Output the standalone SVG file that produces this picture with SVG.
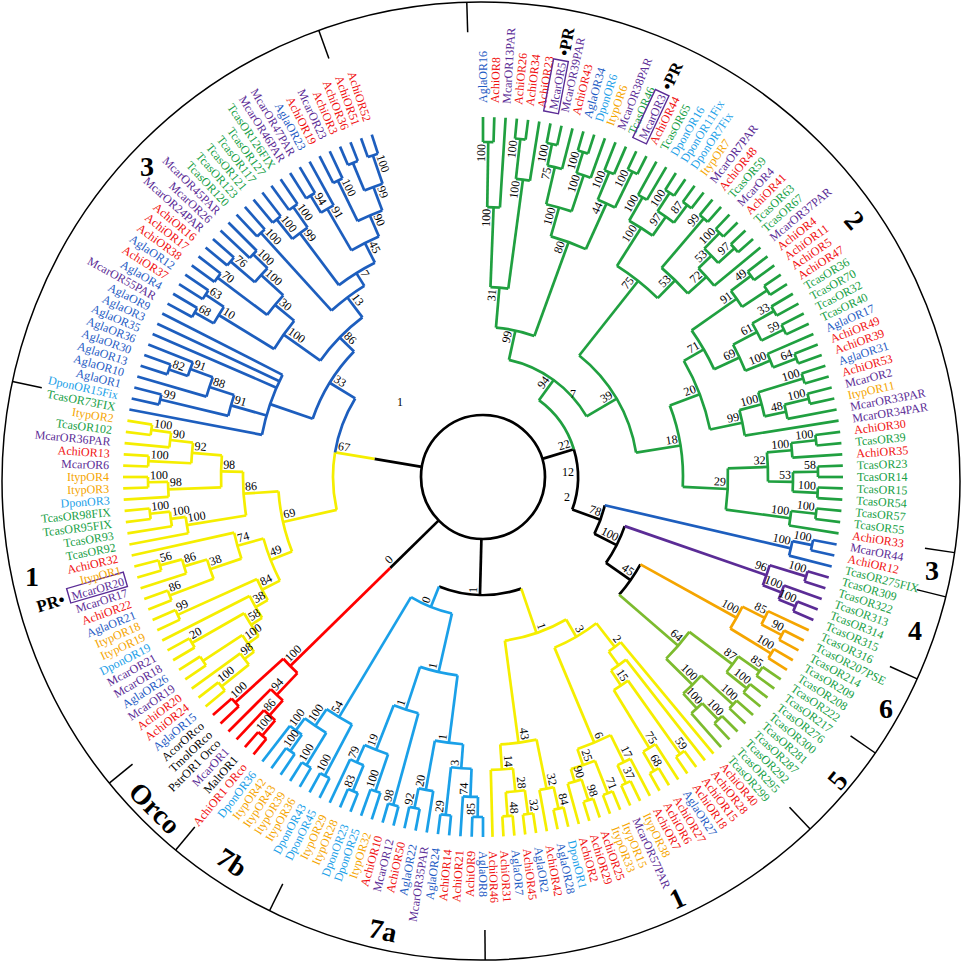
<svg xmlns="http://www.w3.org/2000/svg" width="964" height="964" viewBox="0 0 964 964">
<style>
text{font-family:"Liberation Serif","Times New Roman",serif;font-size:12px}
.e{text-anchor:end}
.a{fill:#f01010}.m{fill:#5b2c96}.g{fill:#1f5cc4}.d{fill:#1aa0e8}.i{fill:#f5a500}.t{fill:#17a046}.k{fill:#000}
.n{fill:#000;font-size:12px}
.cl{font-weight:bold;font-size:28px;text-anchor:middle;fill:#000}
.pr{font-weight:bold;font-size:17px;fill:#000}
line,circle,rect{fill:none}
.G{stroke:#20a040;stroke-width:2.7}.B{stroke:#1d5ebe;stroke-width:2.7}.Y{stroke:#f5ee00;stroke-width:2.7}.R{stroke:#f00;stroke-width:2.7}
.L{stroke:#1aa0e8;stroke-width:2.7}.P{stroke:#5b2c96;stroke-width:2.7}.O{stroke:#f5a500;stroke-width:2.7}.V{stroke:#7cbb2e;stroke-width:2.7}.K{stroke:#000;stroke-width:2.7}
.box{stroke:#5b2c96;stroke-width:1.4}
</style>
<rect width="964" height="964" fill="#fff"/>
<g id="frame" transform="translate(481 481)">
<circle r="479" stroke="#000" stroke-width="1.5"/>
<g stroke="#000" stroke-width="1.5">
<line x1="449" x2="479" transform="rotate(-91.7)"/>
<line x1="449" x2="479" transform="rotate(-109.8)"/>
<line x1="449" x2="479" transform="rotate(192)"/>
<line x1="449" x2="479" transform="rotate(140.9)"/>
<line x1="449" x2="479" transform="rotate(129.6)"/>
<line x1="449" x2="479" transform="rotate(116.2)"/>
<line x1="449" x2="479" transform="rotate(89.5)"/>
<line x1="449" x2="479" transform="rotate(46.6)"/>
<line x1="449" x2="479" transform="rotate(34.6)"/>
<line x1="449" x2="479" transform="rotate(24.4)"/>
<line x1="449" x2="479" transform="rotate(14)"/>
<line x1="449" x2="479" transform="rotate(8.6)"/>
</g>
</g>
<g id="cladelabels">
<text class="cl" x="855" y="230" transform="rotate(50 855 220)">2</text>
<text class="cl" x="147" y="176">3</text>
<text class="cl" x="32" y="586">1</text>
<text class="cl" x="156" y="818" font-size="33" transform="rotate(45 156 807)">Orco</text>
<text class="cl" x="232" y="872" transform="rotate(33 232 862)">7b</text>
<text class="cl" x="383" y="940" transform="rotate(12 383 930)">7a</text>
<text class="cl" x="677" y="908" transform="rotate(-25 677 898)">1</text>
<text class="cl" x="837" y="790" transform="rotate(-50 837 780)">5</text>
<text class="cl" x="886" y="718">6</text>
<text class="cl" x="915" y="640">4</text>
<text class="cl" x="932" y="580">3</text>
</g>
<g id="connectors" transform="translate(483 477)">
<circle class="K" r="62"/>
<g class="K">
<line x1="62" x2="95" transform="rotate(-16.965)"/>
<circle r="95" pathLength="360" stroke-dasharray="37.005 999" transform="rotate(-16.965)"/>
<line x1="95" x2="125" transform="rotate(20.04)"/>
<circle r="125" pathLength="360" stroke-dasharray="13.98 999" transform="rotate(13.05)"/>
<line x1="125" x2="150" transform="rotate(27.03)"/>
<circle r="150" pathLength="360" stroke-dasharray="15.81 999" transform="rotate(19.125)"/>
<line x1="150" x2="180" transform="rotate(34.93)"/>
<circle r="180" pathLength="360" stroke-dasharray="11.8125 999" transform="rotate(29.025)"/>
<line x1="62" x2="118" transform="rotate(91.4745)"/>
<circle r="118" pathLength="360" stroke-dasharray="40.8161 999" transform="rotate(71.0664)"/>
<line x1="62" x2="130" transform="rotate(135.5625)"/>
<line x1="62" x2="110" transform="rotate(189.453)"/>
</g>
<g class="G">
<circle r="95" pathLength="360" stroke-dasharray="36.965 999" transform="rotate(-53.93)"/>
<circle r="335" pathLength="360" stroke-dasharray="1.8 999" transform="rotate(-90)"/>
<circle r="270" pathLength="360" stroke-dasharray="2.7 999" transform="rotate(-89.1)"/>
<circle r="340" pathLength="360" stroke-dasharray="1.8 999" transform="rotate(-84.6)"/>
<circle r="300" pathLength="360" stroke-dasharray="2.7 999" transform="rotate(-83.7)"/>
<circle r="190" pathLength="360" stroke-dasharray="5.4 999" transform="rotate(-87.75)"/>
<circle r="340" pathLength="360" stroke-dasharray="1.8 999" transform="rotate(-79.2)"/>
<circle r="318" pathLength="360" stroke-dasharray="2.7 999" transform="rotate(-78.3)"/>
<circle r="340" pathLength="360" stroke-dasharray="1.8 999" transform="rotate(-73.8)"/>
<circle r="318" pathLength="360" stroke-dasharray="2.7 999" transform="rotate(-72.9)"/>
<circle r="280" pathLength="360" stroke-dasharray="5.4 999" transform="rotate(-76.95)"/>
<circle r="330" pathLength="360" stroke-dasharray="1.8 999" transform="rotate(-68.4)"/>
<circle r="340" pathLength="360" stroke-dasharray="1.8 999" transform="rotate(-64.8)"/>
<circle r="300" pathLength="360" stroke-dasharray="3.6 999" transform="rotate(-67.5)"/>
<circle r="250" pathLength="360" stroke-dasharray="8.55 999" transform="rotate(-74.25)"/>
<circle r="150" pathLength="360" stroke-dasharray="15.075 999" transform="rotate(-85.05)"/>
<circle r="322" pathLength="360" stroke-dasharray="1.8 999" transform="rotate(-61.2)"/>
<circle r="340" pathLength="360" stroke-dasharray="1.8 999" transform="rotate(-57.6)"/>
<circle r="340" pathLength="360" stroke-dasharray="1.8 999" transform="rotate(-54)"/>
<circle r="318" pathLength="360" stroke-dasharray="3.6 999" transform="rotate(-56.7)"/>
<circle r="295" pathLength="360" stroke-dasharray="5.4 999" transform="rotate(-60.3)"/>
<circle r="340" pathLength="360" stroke-dasharray="1.8 999" transform="rotate(-50.4)"/>
<circle r="340" pathLength="360" stroke-dasharray="1.8 999" transform="rotate(-46.8)"/>
<circle r="340" pathLength="360" stroke-dasharray="1.8 999" transform="rotate(-43.2)"/>
<circle r="318" pathLength="360" stroke-dasharray="3.6 999" transform="rotate(-45.9)"/>
<circle r="300" pathLength="360" stroke-dasharray="4.5 999" transform="rotate(-44.1)"/>
<circle r="275" pathLength="360" stroke-dasharray="7.65 999" transform="rotate(-49.5)"/>
<circle r="250" pathLength="360" stroke-dasharray="11.925 999" transform="rotate(-57.6)"/>
<circle r="335" pathLength="360" stroke-dasharray="1.8 999" transform="rotate(-37.8)"/>
<circle r="340" pathLength="360" stroke-dasharray="1.8 999" transform="rotate(-34.2)"/>
<circle r="310" pathLength="360" stroke-dasharray="3.6 999" transform="rotate(-36.9)"/>
<circle r="335" pathLength="360" stroke-dasharray="1.8 999" transform="rotate(-30.6)"/>
<circle r="335" pathLength="360" stroke-dasharray="1.8 999" transform="rotate(-27)"/>
<circle r="310" pathLength="360" stroke-dasharray="3.6 999" transform="rotate(-29.7)"/>
<circle r="335" pathLength="360" stroke-dasharray="1.8 999" transform="rotate(-21.6)"/>
<circle r="310" pathLength="360" stroke-dasharray="2.7 999" transform="rotate(-23.4)"/>
<circle r="283" pathLength="360" stroke-dasharray="5.85 999" transform="rotate(-27.9)"/>
<circle r="255" pathLength="360" stroke-dasharray="10.125 999" transform="rotate(-35.1)"/>
<circle r="335" pathLength="360" stroke-dasharray="1.8 999" transform="rotate(-18)"/>
<circle r="335" pathLength="360" stroke-dasharray="1.8 999" transform="rotate(-14.4)"/>
<circle r="310" pathLength="360" stroke-dasharray="2.7 999" transform="rotate(-13.5)"/>
<circle r="288" pathLength="360" stroke-dasharray="4.95 999" transform="rotate(-17.1)"/>
<circle r="265" pathLength="360" stroke-dasharray="5.625 999" transform="rotate(-14.625)"/>
<circle r="232" pathLength="360" stroke-dasharray="18.225 999" transform="rotate(-30.0375)"/>
<circle r="335" pathLength="360" stroke-dasharray="1.8 999" transform="rotate(-7.2)"/>
<circle r="310" pathLength="360" stroke-dasharray="2.7 999" transform="rotate(-6.3)"/>
<circle r="335" pathLength="360" stroke-dasharray="1.8 999" transform="rotate(-1.8)"/>
<circle r="335" pathLength="360" stroke-dasharray="1.8 999" transform="rotate(1.8)"/>
<circle r="310" pathLength="360" stroke-dasharray="3.6 999" transform="rotate(-0.9)"/>
<circle r="285" pathLength="360" stroke-dasharray="5.85 999" transform="rotate(-4.95)"/>
<circle r="335" pathLength="360" stroke-dasharray="1.8 999" transform="rotate(5.4)"/>
<circle r="310" pathLength="360" stroke-dasharray="2.7 999" transform="rotate(6.3)"/>
<circle r="245" pathLength="360" stroke-dasharray="9.675 999" transform="rotate(-2.025)"/>
<circle r="200" pathLength="360" stroke-dasharray="23.7375 999" transform="rotate(-20.925)"/>
<circle r="155" pathLength="360" stroke-dasharray="42.58 999" transform="rotate(-51.6375)"/>
<circle r="120" pathLength="360" stroke-dasharray="47.165 999" transform="rotate(-77.5125)"/>
<line x1="270" x2="335" transform="rotate(-89.1)"/><line x1="270" x2="360" transform="rotate(-86.4)"/><line x1="190" x2="270" transform="rotate(-87.75)"/>
<line x1="300" x2="340" transform="rotate(-83.7)"/><line x1="300" x2="360" transform="rotate(-81)"/><line x1="190" x2="300" transform="rotate(-82.35)"/><line x1="150" x2="190" transform="rotate(-85.05)"/>
<line x1="318" x2="340" transform="rotate(-78.3)"/><line x1="318" x2="360" transform="rotate(-75.6)"/><line x1="280" x2="318" transform="rotate(-76.95)"/>
<line x1="318" x2="340" transform="rotate(-72.9)"/><line x1="318" x2="360" transform="rotate(-70.2)"/><line x1="280" x2="318" transform="rotate(-71.55)"/><line x1="250" x2="280" transform="rotate(-74.25)"/>
<line x1="300" x2="330" transform="rotate(-67.5)"/><line x1="300" x2="340" transform="rotate(-63.9)"/><line x1="250" x2="300" transform="rotate(-65.7)"/><line x1="150" x2="250" transform="rotate(-69.975)"/><line x1="120" x2="150" transform="rotate(-77.5125)"/>
<line x1="295" x2="322" transform="rotate(-60.3)"/><line x1="318" x2="340" transform="rotate(-56.7)"/><line x1="318" x2="340" transform="rotate(-53.1)"/><line x1="295" x2="318" transform="rotate(-54.9)"/><line x1="250" x2="295" transform="rotate(-57.6)"/>
<line x1="275" x2="340" transform="rotate(-49.5)"/><line x1="318" x2="340" transform="rotate(-45.9)"/><line x1="318" x2="340" transform="rotate(-42.3)"/><line x1="300" x2="318" transform="rotate(-44.1)"/><line x1="300" x2="360" transform="rotate(-39.6)"/><line x1="275" x2="300" transform="rotate(-41.85)"/><line x1="250" x2="275" transform="rotate(-45.675)"/><line x1="155" x2="250" transform="rotate(-51.6375)"/>
<line x1="310" x2="335" transform="rotate(-36.9)"/><line x1="310" x2="340" transform="rotate(-33.3)"/><line x1="255" x2="310" transform="rotate(-35.1)"/>
<line x1="310" x2="335" transform="rotate(-29.7)"/><line x1="310" x2="335" transform="rotate(-26.1)"/><line x1="283" x2="310" transform="rotate(-27.9)"/>
<line x1="310" x2="360" transform="rotate(-23.4)"/><line x1="310" x2="335" transform="rotate(-20.7)"/><line x1="283" x2="310" transform="rotate(-22.05)"/><line x1="255" x2="283" transform="rotate(-24.975)"/><line x1="232" x2="255" transform="rotate(-30.0375)"/>
<line x1="288" x2="335" transform="rotate(-17.1)"/><line x1="310" x2="335" transform="rotate(-13.5)"/><line x1="310" x2="360" transform="rotate(-10.8)"/><line x1="288" x2="310" transform="rotate(-12.15)"/><line x1="265" x2="288" transform="rotate(-14.625)"/><line x1="265" x2="360" transform="rotate(-9)"/><line x1="232" x2="265" transform="rotate(-11.8125)"/><line x1="200" x2="232" transform="rotate(-20.925)"/>
<line x1="310" x2="335" transform="rotate(-6.3)"/><line x1="310" x2="360" transform="rotate(-3.6)"/><line x1="285" x2="310" transform="rotate(-4.95)"/>
<line x1="310" x2="335" transform="rotate(-0.9)"/><line x1="310" x2="335" transform="rotate(2.7)"/><line x1="285" x2="310" transform="rotate(0.9)"/><line x1="245" x2="285" transform="rotate(-2.025)"/>
<line x1="310" x2="335" transform="rotate(6.3)"/><line x1="310" x2="360" transform="rotate(9)"/><line x1="245" x2="310" transform="rotate(7.65)"/><line x1="200" x2="245" transform="rotate(2.8125)"/><line x1="155" x2="200" transform="rotate(-9.056)"/><line x1="120" x2="155" transform="rotate(-30.347)"/><line x1="95" x2="120" transform="rotate(-53.93)"/>
<line x1="335" x2="360" transform="rotate(-90)"/><line x1="335" x2="360" transform="rotate(-88.2)"/>
<line x1="340" x2="360" transform="rotate(-84.6)"/><line x1="340" x2="360" transform="rotate(-82.8)"/>
<line x1="340" x2="360" transform="rotate(-79.2)"/><line x1="340" x2="360" transform="rotate(-77.4)"/>
<line x1="340" x2="360" transform="rotate(-73.8)"/><line x1="340" x2="360" transform="rotate(-72)"/>
<line x1="330" x2="360" transform="rotate(-68.4)"/><line x1="330" x2="360" transform="rotate(-66.6)"/>
<line x1="340" x2="360" transform="rotate(-64.8)"/><line x1="340" x2="360" transform="rotate(-63)"/>
<line x1="322" x2="360" transform="rotate(-61.2)"/><line x1="322" x2="360" transform="rotate(-59.4)"/>
<line x1="340" x2="360" transform="rotate(-57.6)"/><line x1="340" x2="360" transform="rotate(-55.8)"/>
<line x1="340" x2="360" transform="rotate(-54)"/><line x1="340" x2="360" transform="rotate(-52.2)"/>
<line x1="340" x2="360" transform="rotate(-50.4)"/><line x1="340" x2="360" transform="rotate(-48.6)"/>
<line x1="340" x2="360" transform="rotate(-46.8)"/><line x1="340" x2="360" transform="rotate(-45)"/>
<line x1="340" x2="360" transform="rotate(-43.2)"/><line x1="340" x2="360" transform="rotate(-41.4)"/>
<line x1="335" x2="360" transform="rotate(-37.8)"/><line x1="335" x2="360" transform="rotate(-36)"/>
<line x1="340" x2="360" transform="rotate(-34.2)"/><line x1="340" x2="360" transform="rotate(-32.4)"/>
<line x1="335" x2="360" transform="rotate(-30.6)"/><line x1="335" x2="360" transform="rotate(-28.8)"/>
<line x1="335" x2="360" transform="rotate(-27)"/><line x1="335" x2="360" transform="rotate(-25.2)"/>
<line x1="335" x2="360" transform="rotate(-21.6)"/><line x1="335" x2="360" transform="rotate(-19.8)"/>
<line x1="335" x2="360" transform="rotate(-18)"/><line x1="335" x2="360" transform="rotate(-16.2)"/>
<line x1="335" x2="360" transform="rotate(-14.4)"/><line x1="335" x2="360" transform="rotate(-12.6)"/>
<line x1="335" x2="360" transform="rotate(-7.2)"/><line x1="335" x2="360" transform="rotate(-5.4)"/>
<line x1="335" x2="360" transform="rotate(-1.8)"/><line x1="335" x2="360" transform="rotate(0)"/>
<line x1="335" x2="360" transform="rotate(1.8)"/><line x1="335" x2="360" transform="rotate(3.6)"/>
<line x1="335" x2="360" transform="rotate(5.4)"/><line x1="335" x2="360" transform="rotate(7.2)"/>
</g>
<g class="B">
<circle r="336" pathLength="360" stroke-dasharray="1.8 999" transform="rotate(10.8)"/>
<circle r="316" pathLength="360" stroke-dasharray="2.7 999" transform="rotate(11.7)"/>
<line x1="336" x2="360" transform="rotate(10.8)"/><line x1="336" x2="360" transform="rotate(12.6)"/><line x1="316" x2="360" transform="rotate(14.4)"/>
<line x1="316" x2="336" transform="rotate(11.7)"/><line x1="125" x2="316" transform="rotate(13.05)"/>
</g>
<g class="P">
<circle r="338" pathLength="360" stroke-dasharray="1.8 999" transform="rotate(16.2)"/>
<circle r="338" pathLength="360" stroke-dasharray="1.8 999" transform="rotate(21.6)"/>
<circle r="320" pathLength="360" stroke-dasharray="2.7 999" transform="rotate(19.8)"/>
<circle r="300" pathLength="360" stroke-dasharray="4.05 999" transform="rotate(17.1)"/>
<line x1="338" x2="360" transform="rotate(16.2)"/><line x1="338" x2="360" transform="rotate(18)"/><line x1="320" x2="360" transform="rotate(19.8)"/><line x1="338" x2="360" transform="rotate(21.6)"/><line x1="338" x2="360" transform="rotate(23.4)"/>
<line x1="320" x2="338" transform="rotate(22.5)"/><line x1="300" x2="338" transform="rotate(17.1)"/><line x1="300" x2="320" transform="rotate(21.15)"/><line x1="150" x2="300" transform="rotate(19.125)"/>
</g>
<g class="O">
<circle r="338" pathLength="360" stroke-dasharray="1.8 999" transform="rotate(27)"/>
<circle r="315" pathLength="360" stroke-dasharray="2.7 999" transform="rotate(25.2)"/>
<circle r="338" pathLength="360" stroke-dasharray="1.8 999" transform="rotate(30.6)"/>
<circle r="290" pathLength="360" stroke-dasharray="4.95 999" transform="rotate(26.55)"/>
<line x1="315" x2="360" transform="rotate(25.2)"/><line x1="338" x2="360" transform="rotate(27)"/><line x1="338" x2="360" transform="rotate(28.8)"/><line x1="338" x2="360" transform="rotate(30.6)"/><line x1="338" x2="360" transform="rotate(32.4)"/>
<line x1="315" x2="338" transform="rotate(27.9)"/><line x1="290" x2="315" transform="rotate(26.55)"/><line x1="290" x2="338" transform="rotate(31.5)"/><line x1="180" x2="290" transform="rotate(29.025)"/>
</g>
<g class="V">
<circle r="338" pathLength="360" stroke-dasharray="1.8 999" transform="rotate(34.2)"/>
<circle r="338" pathLength="360" stroke-dasharray="1.8 999" transform="rotate(37.8)"/>
<circle r="312" pathLength="360" stroke-dasharray="3.6 999" transform="rotate(35.1)"/>
<circle r="338" pathLength="360" stroke-dasharray="1.8 999" transform="rotate(41.4)"/>
<circle r="338" pathLength="360" stroke-dasharray="1.8 999" transform="rotate(45)"/>
<circle r="315" pathLength="360" stroke-dasharray="2.7 999" transform="rotate(45.9)"/>
<circle r="295" pathLength="360" stroke-dasharray="4.95 999" transform="rotate(42.3)"/>
<circle r="258" pathLength="360" stroke-dasharray="7.875 999" transform="rotate(36.9)"/>
<line x1="338" x2="360" transform="rotate(34.2)"/><line x1="338" x2="360" transform="rotate(36)"/><line x1="338" x2="360" transform="rotate(37.8)"/><line x1="338" x2="360" transform="rotate(39.6)"/><line x1="338" x2="360" transform="rotate(41.4)"/><line x1="338" x2="360" transform="rotate(43.2)"/><line x1="338" x2="360" transform="rotate(45)"/><line x1="338" x2="360" transform="rotate(46.8)"/><line x1="315" x2="360" transform="rotate(48.6)"/>
<line x1="312" x2="338" transform="rotate(35.1)"/><line x1="312" x2="338" transform="rotate(38.7)"/><line x1="258" x2="312" transform="rotate(36.9)"/><line x1="295" x2="338" transform="rotate(42.3)"/><line x1="315" x2="338" transform="rotate(45.9)"/><line x1="295" x2="315" transform="rotate(47.25)"/><line x1="258" x2="295" transform="rotate(44.775)"/><line x1="180" x2="258" transform="rotate(40.8375)"/>
</g>
<g class="Y">
<circle r="340" pathLength="360" stroke-dasharray="1.74 999" transform="rotate(53.68)"/>
<circle r="340" pathLength="360" stroke-dasharray="1.74 999" transform="rotate(58.9)"/>
<circle r="318" pathLength="360" stroke-dasharray="2.61 999" transform="rotate(57.16)"/>
<circle r="250" pathLength="360" stroke-dasharray="3.915 999" transform="rotate(54.55)"/>
<circle r="232" pathLength="360" stroke-dasharray="4.5675 999" transform="rotate(51.94)"/>
<circle r="215" pathLength="360" stroke-dasharray="4.02375 999" transform="rotate(50.2)"/>
<circle r="338" pathLength="360" stroke-dasharray="1.74 999" transform="rotate(64.12)"/>
<circle r="318" pathLength="360" stroke-dasharray="2.61 999" transform="rotate(62.38)"/>
<circle r="340" pathLength="360" stroke-dasharray="1.74 999" transform="rotate(67.6)"/>
<circle r="340" pathLength="360" stroke-dasharray="1.74 999" transform="rotate(71.08)"/>
<circle r="318" pathLength="360" stroke-dasharray="2.61 999" transform="rotate(71.95)"/>
<circle r="305" pathLength="360" stroke-dasharray="4.785 999" transform="rotate(68.47)"/>
<circle r="288" pathLength="360" stroke-dasharray="7.1775 999" transform="rotate(63.685)"/>
<circle r="185" pathLength="360" stroke-dasharray="15.0619 999" transform="rotate(52.2119)"/>
<circle r="340" pathLength="360" stroke-dasharray="1.74 999" transform="rotate(76.3)"/>
<circle r="318" pathLength="360" stroke-dasharray="2.61 999" transform="rotate(77.17)"/>
<circle r="340" pathLength="360" stroke-dasharray="1.74 999" transform="rotate(81.52)"/>
<circle r="340" pathLength="360" stroke-dasharray="1.74 999" transform="rotate(85)"/>
<circle r="316" pathLength="360" stroke-dasharray="3.48 999" transform="rotate(82.39)"/>
<circle r="293" pathLength="360" stroke-dasharray="4.35 999" transform="rotate(84.13)"/>
<circle r="268" pathLength="360" stroke-dasharray="7.83 999" transform="rotate(78.475)"/>
<circle r="165" pathLength="360" stroke-dasharray="22.6472 999" transform="rotate(59.7428)"/>
<line x1="215" x2="360" transform="rotate(50.2)"/><line x1="232" x2="360" transform="rotate(51.94)"/><line x1="340" x2="360" transform="rotate(53.68)"/><line x1="340" x2="360" transform="rotate(55.42)"/><line x1="318" x2="360" transform="rotate(57.16)"/><line x1="340" x2="360" transform="rotate(58.9)"/><line x1="340" x2="360" transform="rotate(60.64)"/><line x1="318" x2="360" transform="rotate(62.38)"/><line x1="338" x2="360" transform="rotate(64.12)"/><line x1="338" x2="360" transform="rotate(65.86)"/><line x1="340" x2="360" transform="rotate(67.6)"/><line x1="340" x2="360" transform="rotate(69.34)"/><line x1="340" x2="360" transform="rotate(71.08)"/><line x1="340" x2="360" transform="rotate(72.82)"/><line x1="318" x2="360" transform="rotate(74.56)"/><line x1="340" x2="360" transform="rotate(76.3)"/><line x1="340" x2="360" transform="rotate(78.04)"/><line x1="318" x2="360" transform="rotate(79.78)"/><line x1="340" x2="360" transform="rotate(81.52)"/><line x1="340" x2="360" transform="rotate(83.26)"/><line x1="340" x2="360" transform="rotate(85)"/><line x1="340" x2="360" transform="rotate(86.74)"/><line x1="293" x2="360" transform="rotate(88.48)"/>
<line x1="250" x2="340" transform="rotate(54.55)"/><line x1="318" x2="340" transform="rotate(59.77)"/><line x1="250" x2="318" transform="rotate(58.465)"/><line x1="232" x2="250" transform="rotate(56.5075)"/><line x1="215" x2="232" transform="rotate(54.2238)"/><line x1="185" x2="215" transform="rotate(52.2119)"/>
<line x1="318" x2="338" transform="rotate(64.99)"/><line x1="288" x2="318" transform="rotate(63.685)"/><line x1="305" x2="340" transform="rotate(68.47)"/><line x1="318" x2="340" transform="rotate(71.95)"/><line x1="305" x2="318" transform="rotate(73.255)"/><line x1="288" x2="305" transform="rotate(70.8625)"/><line x1="185" x2="288" transform="rotate(67.2738)"/><line x1="165" x2="185" transform="rotate(59.7428)"/>
<line x1="318" x2="340" transform="rotate(77.17)"/><line x1="268" x2="318" transform="rotate(78.475)"/><line x1="316" x2="340" transform="rotate(82.39)"/><line x1="316" x2="340" transform="rotate(85.87)"/><line x1="293" x2="316" transform="rotate(84.13)"/><line x1="268" x2="293" transform="rotate(86.305)"/><line x1="165" x2="268" transform="rotate(82.39)"/><line x1="118" x2="165" transform="rotate(71.0664)"/>
<circle r="335" pathLength="360" stroke-dasharray="1.8 999" transform="rotate(140.4)"/>
<circle r="300" pathLength="360" stroke-dasharray="2.7 999" transform="rotate(141.3)"/>
<circle r="335" pathLength="360" stroke-dasharray="1.8 999" transform="rotate(145.8)"/>
<circle r="288" pathLength="360" stroke-dasharray="4.05 999" transform="rotate(142.65)"/>
<circle r="335" pathLength="360" stroke-dasharray="1.8 999" transform="rotate(149.4)"/>
<circle r="275" pathLength="360" stroke-dasharray="5.625 999" transform="rotate(144.675)"/>
<circle r="262" pathLength="360" stroke-dasharray="5.5125 999" transform="rotate(147.4875)"/>
<circle r="335" pathLength="360" stroke-dasharray="1.8 999" transform="rotate(154.8)"/>
<circle r="248" pathLength="360" stroke-dasharray="5.46 999" transform="rotate(150.24)"/>
<circle r="335" pathLength="360" stroke-dasharray="1.8 999" transform="rotate(158.4)"/>
<circle r="335" pathLength="360" stroke-dasharray="1.8 999" transform="rotate(163.8)"/>
<circle r="312" pathLength="360" stroke-dasharray="2.7 999" transform="rotate(162)"/>
<circle r="288" pathLength="360" stroke-dasharray="4.05 999" transform="rotate(159.3)"/>
<circle r="255" pathLength="360" stroke-dasharray="6.075 999" transform="rotate(161.325)"/>
<circle r="228" pathLength="360" stroke-dasharray="11.39 999" transform="rotate(152.97)"/>
<circle r="335" pathLength="360" stroke-dasharray="1.8 999" transform="rotate(187.2)"/>
<circle r="315" pathLength="360" stroke-dasharray="2.7 999" transform="rotate(185.4)"/>
<circle r="335" pathLength="360" stroke-dasharray="1.8 999" transform="rotate(181.8)"/>
<circle r="292" pathLength="360" stroke-dasharray="4.05 999" transform="rotate(182.7)"/>
<circle r="335" pathLength="360" stroke-dasharray="1.8 999" transform="rotate(178.2)"/>
<circle r="315" pathLength="360" stroke-dasharray="2.7 999" transform="rotate(176.4)"/>
<circle r="262" pathLength="360" stroke-dasharray="6.975 999" transform="rotate(177.75)"/>
<circle r="335" pathLength="360" stroke-dasharray="1.8 999" transform="rotate(172.8)"/>
<circle r="315" pathLength="360" stroke-dasharray="2.7 999" transform="rotate(171)"/>
<circle r="300" pathLength="360" stroke-dasharray="3.15 999" transform="rotate(169.2)"/>
<circle r="240" pathLength="360" stroke-dasharray="10.4625 999" transform="rotate(170.775)"/>
<circle r="205" pathLength="360" stroke-dasharray="17.34 999" transform="rotate(158.666)"/>
<circle r="150" pathLength="360" stroke-dasharray="22.117 999" transform="rotate(167.336)"/>
<line x1="335" x2="360" transform="rotate(140.4)"/><line x1="335" x2="360" transform="rotate(142.2)"/><line x1="300" x2="360" transform="rotate(144)"/><line x1="335" x2="360" transform="rotate(145.8)"/><line x1="335" x2="360" transform="rotate(147.6)"/><line x1="335" x2="360" transform="rotate(149.4)"/><line x1="335" x2="360" transform="rotate(151.2)"/><line x1="262" x2="360" transform="rotate(153)"/><line x1="335" x2="360" transform="rotate(154.8)"/><line x1="335" x2="360" transform="rotate(156.6)"/><line x1="335" x2="360" transform="rotate(158.4)"/><line x1="335" x2="360" transform="rotate(160.2)"/><line x1="312" x2="360" transform="rotate(162)"/><line x1="335" x2="360" transform="rotate(163.8)"/><line x1="335" x2="360" transform="rotate(165.6)"/><line x1="255" x2="360" transform="rotate(167.4)"/>
<line x1="300" x2="360" transform="rotate(169.2)"/><line x1="315" x2="360" transform="rotate(171)"/><line x1="335" x2="360" transform="rotate(172.8)"/><line x1="335" x2="360" transform="rotate(174.6)"/><line x1="315" x2="360" transform="rotate(176.4)"/><line x1="335" x2="360" transform="rotate(178.2)"/><line x1="335" x2="360" transform="rotate(180)"/><line x1="335" x2="360" transform="rotate(181.8)"/><line x1="335" x2="360" transform="rotate(183.6)"/><line x1="315" x2="360" transform="rotate(185.4)"/><line x1="335" x2="360" transform="rotate(187.2)"/><line x1="335" x2="360" transform="rotate(189)"/>
<line x1="300" x2="335" transform="rotate(141.3)"/><line x1="288" x2="300" transform="rotate(142.65)"/><line x1="288" x2="335" transform="rotate(146.7)"/><line x1="275" x2="288" transform="rotate(144.675)"/><line x1="275" x2="335" transform="rotate(150.3)"/><line x1="262" x2="275" transform="rotate(147.4875)"/><line x1="248" x2="262" transform="rotate(150.24)"/><line x1="248" x2="335" transform="rotate(155.7)"/><line x1="228" x2="248" transform="rotate(152.97)"/>
<line x1="288" x2="335" transform="rotate(159.3)"/><line x1="312" x2="335" transform="rotate(164.7)"/><line x1="288" x2="312" transform="rotate(163.35)"/><line x1="255" x2="288" transform="rotate(161.325)"/><line x1="228" x2="255" transform="rotate(164.3625)"/><line x1="205" x2="228" transform="rotate(158.666)"/>
<line x1="315" x2="335" transform="rotate(188.1)"/><line x1="292" x2="315" transform="rotate(186.75)"/><line x1="292" x2="335" transform="rotate(182.7)"/><line x1="262" x2="292" transform="rotate(184.725)"/><line x1="315" x2="335" transform="rotate(179.1)"/><line x1="262" x2="315" transform="rotate(177.75)"/><line x1="240" x2="262" transform="rotate(181.2375)"/>
<line x1="315" x2="335" transform="rotate(173.7)"/><line x1="300" x2="315" transform="rotate(172.35)"/><line x1="240" x2="300" transform="rotate(170.775)"/><line x1="205" x2="240" transform="rotate(176.006)"/><line x1="150" x2="205" transform="rotate(167.336)"/><line x1="110" x2="150" transform="rotate(189.453)"/>
</g>
<g class="L">
<circle r="340" pathLength="360" stroke-dasharray="1.8 999" transform="rotate(90)"/>
<circle r="320" pathLength="360" stroke-dasharray="2.7 999" transform="rotate(90.9)"/>
<circle r="340" pathLength="360" stroke-dasharray="1.8 999" transform="rotate(95.4)"/>
<circle r="292" pathLength="360" stroke-dasharray="4.05 999" transform="rotate(92.25)"/>
<circle r="338" pathLength="360" stroke-dasharray="1.8 999" transform="rotate(100.8)"/>
<circle r="318" pathLength="360" stroke-dasharray="2.7 999" transform="rotate(99)"/>
<circle r="268" pathLength="360" stroke-dasharray="6.075 999" transform="rotate(94.275)"/>
<circle r="340" pathLength="360" stroke-dasharray="1.8 999" transform="rotate(104.4)"/>
<circle r="332" pathLength="360" stroke-dasharray="1.8 999" transform="rotate(108)"/>
<circle r="340" pathLength="360" stroke-dasharray="1.8 999" transform="rotate(111.6)"/>
<circle r="312" pathLength="360" stroke-dasharray="2.7 999" transform="rotate(112.5)"/>
<circle r="293" pathLength="360" stroke-dasharray="4.95 999" transform="rotate(108.9)"/>
<circle r="245" pathLength="360" stroke-dasharray="6.075 999" transform="rotate(105.3)"/>
<circle r="200" pathLength="360" stroke-dasharray="11.025 999" transform="rotate(97.3125)"/>
<circle r="338" pathLength="360" stroke-dasharray="1.8 999" transform="rotate(117)"/>
<circle r="338" pathLength="360" stroke-dasharray="1.8 999" transform="rotate(120.6)"/>
<circle r="335" pathLength="360" stroke-dasharray="1.8 999" transform="rotate(124.2)"/>
<circle r="315" pathLength="360" stroke-dasharray="2.7 999" transform="rotate(125.1)"/>
<circle r="300" pathLength="360" stroke-dasharray="4.95 999" transform="rotate(121.5)"/>
<circle r="280" pathLength="360" stroke-dasharray="6.075 999" transform="rotate(117.9)"/>
<circle r="140" pathLength="360" stroke-dasharray="18.1125 999" transform="rotate(102.825)"/>
<line x1="340" x2="360" transform="rotate(90)"/><line x1="340" x2="360" transform="rotate(91.8)"/><line x1="320" x2="360" transform="rotate(93.6)"/><line x1="340" x2="360" transform="rotate(95.4)"/><line x1="340" x2="360" transform="rotate(97.2)"/><line x1="318" x2="360" transform="rotate(99)"/><line x1="338" x2="360" transform="rotate(100.8)"/><line x1="338" x2="360" transform="rotate(102.6)"/><line x1="340" x2="360" transform="rotate(104.4)"/><line x1="340" x2="360" transform="rotate(106.2)"/><line x1="332" x2="360" transform="rotate(108)"/><line x1="332" x2="360" transform="rotate(109.8)"/><line x1="340" x2="360" transform="rotate(111.6)"/><line x1="340" x2="360" transform="rotate(113.4)"/><line x1="312" x2="360" transform="rotate(115.2)"/>
<line x1="338" x2="360" transform="rotate(117)"/><line x1="338" x2="360" transform="rotate(118.8)"/><line x1="338" x2="360" transform="rotate(120.6)"/><line x1="338" x2="360" transform="rotate(122.4)"/><line x1="335" x2="360" transform="rotate(124.2)"/><line x1="335" x2="360" transform="rotate(126)"/><line x1="315" x2="360" transform="rotate(127.8)"/>
<line x1="320" x2="340" transform="rotate(90.9)"/><line x1="292" x2="320" transform="rotate(92.25)"/><line x1="292" x2="340" transform="rotate(96.3)"/><line x1="268" x2="292" transform="rotate(94.275)"/><line x1="318" x2="338" transform="rotate(101.7)"/><line x1="268" x2="318" transform="rotate(100.35)"/><line x1="200" x2="268" transform="rotate(97.3125)"/>
<line x1="245" x2="340" transform="rotate(105.3)"/><line x1="293" x2="332" transform="rotate(108.9)"/><line x1="312" x2="340" transform="rotate(112.5)"/><line x1="293" x2="312" transform="rotate(113.85)"/><line x1="245" x2="293" transform="rotate(111.375)"/><line x1="200" x2="245" transform="rotate(108.3375)"/><line x1="140" x2="200" transform="rotate(102.825)"/>
<line x1="280" x2="338" transform="rotate(117.9)"/><line x1="300" x2="338" transform="rotate(121.5)"/><line x1="315" x2="335" transform="rotate(125.1)"/><line x1="300" x2="315" transform="rotate(126.45)"/><line x1="280" x2="300" transform="rotate(123.975)"/><line x1="140" x2="280" transform="rotate(120.9375)"/><line x1="118" x2="140" transform="rotate(111.88)"/>
</g>
<g class="R">
<circle r="340" pathLength="360" stroke-dasharray="1.8 999" transform="rotate(129.6)"/>
<circle r="320" pathLength="360" stroke-dasharray="2.7 999" transform="rotate(130.5)"/>
<circle r="300" pathLength="360" stroke-dasharray="3.15 999" transform="rotate(131.85)"/>
<circle r="335" pathLength="360" stroke-dasharray="1.8 999" transform="rotate(136.8)"/>
<circle r="270" pathLength="360" stroke-dasharray="4.275 999" transform="rotate(133.425)"/>
<line x1="340" x2="360" transform="rotate(129.6)"/><line x1="340" x2="360" transform="rotate(131.4)"/><line x1="320" x2="360" transform="rotate(133.2)"/><line x1="300" x2="360" transform="rotate(135)"/><line x1="335" x2="360" transform="rotate(136.8)"/><line x1="335" x2="360" transform="rotate(138.6)"/>
<line x1="320" x2="340" transform="rotate(130.5)"/><line x1="300" x2="320" transform="rotate(131.85)"/><line x1="270" x2="300" transform="rotate(133.425)"/><line x1="270" x2="335" transform="rotate(137.7)"/><line x1="130" x2="270" transform="rotate(135.5625)"/>
</g>
<g class="B">
<circle r="150" pathLength="360" stroke-dasharray="22.117 999" transform="rotate(189.453)"/>
<circle r="332" pathLength="360" stroke-dasharray="1.8 999" transform="rotate(192.6)"/>
<circle r="332" pathLength="360" stroke-dasharray="1.8 999" transform="rotate(198)"/>
<circle r="312" pathLength="360" stroke-dasharray="2.7 999" transform="rotate(198.9)"/>
<circle r="288" pathLength="360" stroke-dasharray="4.05 999" transform="rotate(196.2)"/>
<circle r="262" pathLength="360" stroke-dasharray="4.725 999" transform="rotate(193.5)"/>
<circle r="225" pathLength="360" stroke-dasharray="16.2 999" transform="rotate(190.8)"/>
<circle r="332" pathLength="360" stroke-dasharray="1.8 999" transform="rotate(208.8)"/>
<circle r="332" pathLength="360" stroke-dasharray="1.8 999" transform="rotate(212.4)"/>
<circle r="310" pathLength="360" stroke-dasharray="3.6 999" transform="rotate(209.7)"/>
<circle r="332" pathLength="360" stroke-dasharray="1.8 999" transform="rotate(216)"/>
<circle r="332" pathLength="360" stroke-dasharray="1.8 999" transform="rotate(219.6)"/>
<circle r="320" pathLength="360" stroke-dasharray="1.8 999" transform="rotate(223.2)"/>
<circle r="300" pathLength="360" stroke-dasharray="3.6 999" transform="rotate(220.5)"/>
<circle r="270" pathLength="360" stroke-dasharray="5.4 999" transform="rotate(216.9)"/>
<circle r="245" pathLength="360" stroke-dasharray="8.1 999" transform="rotate(211.5)"/>
<circle r="330" pathLength="360" stroke-dasharray="1.8 999" transform="rotate(226.8)"/>
<circle r="330" pathLength="360" stroke-dasharray="1.8 999" transform="rotate(230.4)"/>
<circle r="330" pathLength="360" stroke-dasharray="1.8 999" transform="rotate(234)"/>
<circle r="305" pathLength="360" stroke-dasharray="3.6 999" transform="rotate(231.3)"/>
<circle r="330" pathLength="360" stroke-dasharray="1.8 999" transform="rotate(237.6)"/>
<circle r="310" pathLength="360" stroke-dasharray="2.7 999" transform="rotate(238.5)"/>
<circle r="330" pathLength="360" stroke-dasharray="1.8 999" transform="rotate(243)"/>
<circle r="340" pathLength="360" stroke-dasharray="1.8 999" transform="rotate(246.6)"/>
<circle r="340" pathLength="360" stroke-dasharray="1.8 999" transform="rotate(250.2)"/>
<circle r="310" pathLength="360" stroke-dasharray="3.6 999" transform="rotate(247.5)"/>
<circle r="285" pathLength="360" stroke-dasharray="5.4 999" transform="rotate(243.9)"/>
<circle r="262" pathLength="360" stroke-dasharray="6.75 999" transform="rotate(239.85)"/>
<circle r="240" pathLength="360" stroke-dasharray="10.125 999" transform="rotate(233.1)"/>
<circle r="225" pathLength="360" stroke-dasharray="10.4625 999" transform="rotate(227.7)"/>
<circle r="200" pathLength="360" stroke-dasharray="17.38 999" transform="rotate(215.55)"/>
<circle r="180" pathLength="360" stroke-dasharray="25.34 999" transform="rotate(198.9)"/>
<line x1="225" x2="360" transform="rotate(190.8)"/><line x1="332" x2="360" transform="rotate(192.6)"/><line x1="332" x2="360" transform="rotate(194.4)"/><line x1="288" x2="360" transform="rotate(196.2)"/><line x1="332" x2="360" transform="rotate(198)"/><line x1="332" x2="360" transform="rotate(199.8)"/><line x1="312" x2="360" transform="rotate(201.6)"/><line x1="225" x2="360" transform="rotate(203.4)"/><line x1="225" x2="360" transform="rotate(205.2)"/><line x1="225" x2="360" transform="rotate(207)"/>
<line x1="332" x2="360" transform="rotate(208.8)"/><line x1="332" x2="360" transform="rotate(210.6)"/><line x1="332" x2="360" transform="rotate(212.4)"/><line x1="332" x2="360" transform="rotate(214.2)"/><line x1="332" x2="360" transform="rotate(216)"/><line x1="332" x2="360" transform="rotate(217.8)"/><line x1="332" x2="360" transform="rotate(219.6)"/><line x1="332" x2="360" transform="rotate(221.4)"/><line x1="320" x2="360" transform="rotate(223.2)"/><line x1="320" x2="360" transform="rotate(225)"/>
<line x1="330" x2="360" transform="rotate(226.8)"/><line x1="330" x2="360" transform="rotate(228.6)"/><line x1="330" x2="360" transform="rotate(230.4)"/><line x1="330" x2="360" transform="rotate(232.2)"/><line x1="330" x2="360" transform="rotate(234)"/><line x1="330" x2="360" transform="rotate(235.8)"/><line x1="330" x2="360" transform="rotate(237.6)"/><line x1="330" x2="360" transform="rotate(239.4)"/><line x1="310" x2="360" transform="rotate(241.2)"/><line x1="330" x2="360" transform="rotate(243)"/><line x1="330" x2="360" transform="rotate(244.8)"/><line x1="340" x2="360" transform="rotate(246.6)"/><line x1="340" x2="360" transform="rotate(248.4)"/><line x1="340" x2="360" transform="rotate(250.2)"/><line x1="340" x2="360" transform="rotate(252)"/>
<line x1="262" x2="332" transform="rotate(193.5)"/><line x1="312" x2="332" transform="rotate(198.9)"/><line x1="288" x2="312" transform="rotate(200.25)"/><line x1="262" x2="288" transform="rotate(198.225)"/><line x1="225" x2="262" transform="rotate(195.8625)"/><line x1="180" x2="225" transform="rotate(198.9)"/>
<line x1="310" x2="332" transform="rotate(209.7)"/><line x1="310" x2="332" transform="rotate(213.3)"/><line x1="245" x2="310" transform="rotate(211.5)"/><line x1="270" x2="332" transform="rotate(216.9)"/><line x1="300" x2="332" transform="rotate(220.5)"/><line x1="300" x2="320" transform="rotate(224.1)"/><line x1="270" x2="300" transform="rotate(222.3)"/><line x1="245" x2="270" transform="rotate(219.6)"/><line x1="200" x2="245" transform="rotate(215.55)"/>
<line x1="225" x2="330" transform="rotate(227.7)"/><line x1="305" x2="330" transform="rotate(231.3)"/><line x1="305" x2="330" transform="rotate(234.9)"/><line x1="240" x2="305" transform="rotate(233.1)"/><line x1="310" x2="330" transform="rotate(238.5)"/><line x1="262" x2="310" transform="rotate(239.85)"/><line x1="285" x2="330" transform="rotate(243.9)"/><line x1="310" x2="340" transform="rotate(247.5)"/><line x1="310" x2="340" transform="rotate(251.1)"/><line x1="285" x2="310" transform="rotate(249.3)"/><line x1="262" x2="285" transform="rotate(246.6)"/><line x1="240" x2="262" transform="rotate(243.225)"/><line x1="225" x2="240" transform="rotate(238.1625)"/><line x1="200" x2="225" transform="rotate(232.93)"/><line x1="180" x2="200" transform="rotate(224.24)"/><line x1="150" x2="180" transform="rotate(211.57)"/>
</g>
</g>
<g id="support" transform="translate(483 477)">
<g class="n e">
<text transform="rotate(-89.1)" x="333" y="-3">100</text><text transform="rotate(-87.75)" x="268" y="-3">100</text><text transform="rotate(-83.7)" x="338" y="-3">100</text><text transform="rotate(-82.35)" x="298" y="-3">100</text><text transform="rotate(-85.05)" x="188" y="-3">31</text>
<text transform="rotate(-78.3)" x="338" y="-3">100</text><text transform="rotate(-76.95)" x="316" y="-3">75</text><text transform="rotate(-72.9)" x="338" y="-3">100</text><text transform="rotate(-71.55)" x="316" y="-3">100</text><text transform="rotate(-74.25)" x="278" y="-3">100</text>
<text transform="rotate(-67.5)" x="328" y="-3">100</text><text transform="rotate(-63.9)" x="338" y="-3">100</text><text transform="rotate(-65.7)" x="298" y="-3">44</text><text transform="rotate(-69.975)" x="248" y="-3">80</text><text transform="rotate(-77.51)" x="148" y="-3">99</text>
<text transform="rotate(-60.3)" x="320" y="-3">100</text><text transform="rotate(-56.7)" x="338" y="-3">100</text><text transform="rotate(-53.1)" x="338" y="-3">87</text><text transform="rotate(-54.9)" x="316" y="-3">97</text><text transform="rotate(-57.6)" x="293" y="-3">100</text>
<text transform="rotate(-49.5)" x="338" y="-3">99</text><text transform="rotate(-45.9)" x="338" y="-3">100</text><text transform="rotate(-42.3)" x="338" y="-3">97</text><text transform="rotate(-44.1)" x="316" y="-3">53</text><text transform="rotate(-41.85)" x="298" y="-3">72</text><text transform="rotate(-45.675)" x="273" y="-3">53</text><text transform="rotate(-51.64)" x="248" y="-3">75</text>
<text transform="rotate(-36.9)" x="333" y="-3">49</text><text transform="rotate(-35.1)" x="308" y="-3">91</text><text transform="rotate(-29.7)" x="333" y="-3">33</text><text transform="rotate(-26.1)" x="333" y="-3">59</text><text transform="rotate(-27.9)" x="308" y="-3">61</text>
<text transform="rotate(-20.7)" x="333" y="-3">64</text><text transform="rotate(-22.05)" x="308" y="-3">100</text><text transform="rotate(-24.975)" x="281" y="-3">69</text><text transform="rotate(-30.04)" x="253" y="-3">71</text>
<text transform="rotate(-17.1)" x="333" y="-3">100</text><text transform="rotate(-13.5)" x="333" y="-3">100</text><text transform="rotate(-12.15)" x="308" y="-3">48</text><text transform="rotate(-14.625)" x="286" y="-3">100</text><text transform="rotate(-11.81)" x="263" y="-3">99</text><text transform="rotate(-20.925)" x="230" y="-3">20</text>
<text transform="rotate(-6.3)" x="333" y="-3">100</text><text transform="rotate(-4.95)" x="308" y="-3">100</text><text transform="rotate(-0.9)" x="333" y="-3">58</text><text transform="rotate(2.7)" x="333" y="-3">100</text><text transform="rotate(0.9)" x="308" y="-3">53</text><text transform="rotate(-2.025)" x="283" y="-3">32</text>
<text transform="rotate(6.3)" x="333" y="-3">100</text><text transform="rotate(7.65)" x="308" y="-3">100</text><text transform="rotate(2.81)" x="243" y="-3">29</text><text transform="rotate(-9.06)" x="198" y="-3">18</text><text transform="rotate(-30.35)" x="153" y="-3">39</text><text transform="rotate(-53.93)" x="118" y="-3">94</text><text transform="rotate(-16.965)" x="93" y="-3">22</text>
<text transform="rotate(11.7)" x="334" y="-3">100</text><text transform="rotate(13.05)" x="314" y="-3">100</text>
<text transform="rotate(17.1)" x="336" y="-3">100</text><text transform="rotate(22.5)" x="336" y="-3">100</text><text transform="rotate(21.15)" x="318" y="-3">100</text><text transform="rotate(19.125)" x="298" y="-3">96</text>
<text transform="rotate(27.9)" x="336" y="-3">90</text><text transform="rotate(26.55)" x="313" y="-3">85</text><text transform="rotate(31.5)" x="336" y="-3">100</text><text transform="rotate(29.025)" x="288" y="-3">100</text>
<text transform="rotate(35.1)" x="336" y="-3">85</text><text transform="rotate(38.7)" x="336" y="-3">100</text><text transform="rotate(36.9)" x="310" y="-3">87</text><text transform="rotate(42.3)" x="336" y="-3">100</text><text transform="rotate(45.9)" x="336" y="-3">100</text><text transform="rotate(47.25)" x="313" y="-3">100</text><text transform="rotate(44.775)" x="293" y="-3">100</text><text transform="rotate(40.84)" x="256" y="-3">64</text>
<text transform="rotate(34.93)" x="178" y="-3">45</text><text transform="rotate(27.03)" x="148" y="-3">100</text><text transform="rotate(20.04)" x="123" y="-3">78</text>
<text transform="rotate(54.55)" x="338" y="-3">59</text><text transform="rotate(59.77)" x="338" y="-3">68</text><text transform="rotate(58.465)" x="316" y="-3">75</text><text transform="rotate(56.51)" x="248" y="-3">15</text><text transform="rotate(52.21)" x="213" y="-3">2</text>
<text transform="rotate(64.99)" x="336" y="-3">37</text><text transform="rotate(63.685)" x="316" y="-3">17</text><text transform="rotate(68.47)" x="338" y="-3">71</text><text transform="rotate(71.95)" x="338" y="-3">98</text><text transform="rotate(73.255)" x="316" y="-3">90</text><text transform="rotate(70.86)" x="303" y="-3">25</text><text transform="rotate(67.27)" x="286" y="-3">6</text><text transform="rotate(59.74)" x="183" y="-3">3</text>
<text transform="rotate(77.17)" x="338" y="-3">84</text><text transform="rotate(78.475)" x="316" y="-3">32</text><text transform="rotate(82.39)" x="338" y="-3">32</text><text transform="rotate(85.87)" x="338" y="-3">48</text><text transform="rotate(84.13)" x="314" y="-3">28</text><text transform="rotate(86.305)" x="291" y="-3">14</text><text transform="rotate(82.39)" x="266" y="-3">43</text><text transform="rotate(71.07)" x="163" y="-3">1</text>
</g>
<g class="n">
<text transform="rotate(-89.1)" x="-338" y="-3">85</text><text transform="rotate(-87.75)" x="-318" y="-3">74</text><text transform="rotate(-83.7)" x="-338" y="-3">29</text><text transform="rotate(-85.725)" x="-290" y="-3">3</text><text transform="rotate(-78.3)" x="-336" y="-3">92</text><text transform="rotate(-79.65)" x="-316" y="-3">20</text><text transform="rotate(-82.69)" x="-266" y="-3">1</text>
<text transform="rotate(-74.7)" x="-338" y="-3">98</text><text transform="rotate(-71.1)" x="-330" y="-3">100</text><text transform="rotate(-67.5)" x="-338" y="-3">83</text><text transform="rotate(-66.15)" x="-310" y="-3">79</text><text transform="rotate(-68.625)" x="-291" y="-3">19</text><text transform="rotate(-71.66)" x="-243" y="-3">1</text><text transform="rotate(-77.175)" x="-198" y="-3">1</text>
<text transform="rotate(-62.1)" x="-336" y="-3">100</text><text transform="rotate(-58.5)" x="-336" y="-3">100</text><text transform="rotate(-54.9)" x="-333" y="-3">100</text><text transform="rotate(-53.55)" x="-313" y="-3">100</text><text transform="rotate(-56.025)" x="-298" y="-3">100</text><text transform="rotate(-59.06)" x="-278" y="-3">54</text><text transform="rotate(-68.12)" x="-138" y="-3">0</text><text transform="rotate(-88.5255)" x="-116" y="-3">1</text>
<text transform="rotate(-49.5)" x="-338" y="-3">100</text><text transform="rotate(-48.15)" x="-318" y="-3">86</text><text transform="rotate(-46.575)" x="-298" y="-3">94</text><text transform="rotate(-42.3)" x="-333" y="-3">100</text><text transform="rotate(-44.44)" x="-268" y="-3">100</text><text transform="rotate(-44.44)" x="-128" y="-3">0</text>
<text transform="rotate(-38.7)" x="-333" y="-3">100</text><text transform="rotate(-37.35)" x="-298" y="-3">98</text><text transform="rotate(-35.325)" x="-286" y="-3">100</text><text transform="rotate(-29.7)" x="-333" y="-3">20</text><text transform="rotate(-32.51)" x="-273" y="-3">58</text><text transform="rotate(-29.76)" x="-260" y="-3">38</text><text transform="rotate(-24.3)" x="-333" y="-3">99</text><text transform="rotate(-27.03)" x="-246" y="-3">84</text>
<text transform="rotate(-20.7)" x="-333" y="-3">86</text><text transform="rotate(-15.3)" x="-333" y="-3">56</text><text transform="rotate(-16.65)" x="-310" y="-3">86</text><text transform="rotate(-18.675)" x="-286" y="-3">38</text><text transform="rotate(-15.6375)" x="-253" y="-3">74</text><text transform="rotate(-21.334)" x="-226" y="-3">49</text><text transform="rotate(-12.664)" x="-203" y="-3">69</text>
<text transform="rotate(8.1)" x="-333" y="-3">100</text><text transform="rotate(6.75)" x="-313" y="-3">90</text><text transform="rotate(2.7)" x="-333" y="-3">100</text><text transform="rotate(4.725)" x="-290" y="-3">92</text><text transform="rotate(-0.9)" x="-333" y="-3">100</text><text transform="rotate(-2.25)" x="-313" y="-3">98</text><text transform="rotate(1.2375)" x="-260" y="-3">98</text>
<text transform="rotate(-6.3)" x="-333" y="-3">100</text><text transform="rotate(-7.65)" x="-313" y="-3">100</text><text transform="rotate(-9.225)" x="-298" y="-3">100</text><text transform="rotate(-3.994)" x="-238" y="-3">86</text><text transform="rotate(9.453)" x="-148" y="-3">67</text>
<text transform="rotate(13.5)" x="-330" y="-3">99</text><text transform="rotate(18.9)" x="-330" y="-3">82</text><text transform="rotate(20.25)" x="-310" y="-3">91</text><text transform="rotate(18.225)" x="-286" y="-3">88</text><text transform="rotate(15.8625)" x="-260" y="-3">91</text>
<text transform="rotate(29.7)" x="-330" y="-3">68</text><text transform="rotate(33.3)" x="-330" y="-3">63</text><text transform="rotate(31.5)" x="-308" y="-3">10</text><text transform="rotate(36.9)" x="-330" y="-3">70</text><text transform="rotate(40.5)" x="-330" y="-3">76</text><text transform="rotate(44.1)" x="-318" y="-3">100</text><text transform="rotate(42.3)" x="-298" y="-3">100</text><text transform="rotate(39.6)" x="-268" y="-3">30</text><text transform="rotate(35.55)" x="-243" y="-3">100</text>
<text transform="rotate(47.7)" x="-328" y="-3">100</text><text transform="rotate(51.3)" x="-328" y="-3">100</text><text transform="rotate(54.9)" x="-328" y="-3">100</text><text transform="rotate(53.1)" x="-303" y="-3">99</text><text transform="rotate(58.5)" x="-328" y="-3">94</text><text transform="rotate(59.85)" x="-308" y="-3">91</text><text transform="rotate(63.9)" x="-328" y="-3">100</text>
<text transform="rotate(71.1)" x="-338" y="-3">100</text><text transform="rotate(69.3)" x="-308" y="-3">99</text><text transform="rotate(66.6)" x="-283" y="-3">90</text><text transform="rotate(63.225)" x="-260" y="-3">45</text><text transform="rotate(58.16)" x="-238" y="-3">7</text><text transform="rotate(52.93)" x="-223" y="-3">13</text><text transform="rotate(44.24)" x="-198" y="-3">86</text><text transform="rotate(31.57)" x="-178" y="-3">33</text>
</g>
<g class="n" text-anchor="middle">
<text x="85" y="-1">12</text><text x="84" y="24">2</text><text x="90" y="-79">7</text><text x="-83" y="-71">1</text>
</g>
</g>
<g id="labels" transform="translate(483 477)">
<g id="L1"><text class="g" transform="rotate(-90)" x="374" y="4">AglaOR16</text></g>
<g id="L2"><text class="a" transform="rotate(-88.2)" x="374" y="4">AchiOR8</text></g>
<g id="L3"><text class="m" transform="rotate(-86.4)" x="374" y="4">McarOR13PAR</text></g>
<g id="L4"><text class="a" transform="rotate(-84.6)" x="374" y="4">AchiOR26</text></g>
<g id="L5"><text class="a" transform="rotate(-82.8)" x="374" y="4">AchiOR34</text></g>
<g id="L6"><text class="a" transform="rotate(-81)" x="374" y="4">AchiOR23</text></g>
<g id="L7" transform="rotate(-79.2)"><rect class="box" x="371" y="-9" width="53" height="15"/><text class="m" x="374" y="4">McarOR5</text><text class="pr" x="429" y="6">•PR</text></g>
<g id="L8"><text class="m" transform="rotate(-77.4)" x="374" y="4">McarOR39PAR</text></g>
<g id="L9"><text class="a" transform="rotate(-75.6)" x="374" y="4">AchiOR43</text></g>
<g id="L10"><text class="g" transform="rotate(-73.8)" x="374" y="4">AglaOR34</text></g>
<g id="L11"><text class="d" transform="rotate(-72)" x="374" y="4">DponOR6</text></g>
<g id="L12"><text class="i" transform="rotate(-70.2)" x="374" y="4">ItypOR6</text></g>
<g id="L13"><text class="m" transform="rotate(-68.4)" x="374" y="4">McarOR38PAR</text></g>
<g id="L14"><text class="t" transform="rotate(-66.6)" x="374" y="4">TcasOR46</text></g>
<g id="L15" transform="rotate(-64.8)"><rect class="box" x="371" y="-9" width="53" height="15"/><text class="m" x="374" y="4">McarOR3</text><text class="pr" x="429" y="6">•PR</text></g>
<g id="L16"><text class="a" transform="rotate(-63)" x="374" y="4">AchiOR44</text></g>
<g id="L17"><text class="t" transform="rotate(-61.2)" x="374" y="4">TcasOR65</text></g>
<g id="L18"><text class="d" transform="rotate(-59.4)" x="374" y="4">DponOR16</text></g>
<g id="L19"><text class="d" transform="rotate(-57.6)" x="374" y="4">DponOR11Fix</text></g>
<g id="L20"><text class="d" transform="rotate(-55.8)" x="374" y="4">DponOR7Fix</text></g>
<g id="L21"><text class="i" transform="rotate(-54)" x="374" y="4">ItypOR7</text></g>
<g id="L22"><text class="m" transform="rotate(-52.2)" x="374" y="4">McarOR7PAR</text></g>
<g id="L23"><text class="a" transform="rotate(-50.4)" x="374" y="4">AchiOR48</text></g>
<g id="L24"><text class="t" transform="rotate(-48.6)" x="374" y="4">TcasOR59</text></g>
<g id="L25"><text class="m" transform="rotate(-46.8)" x="374" y="4">McarOR4</text></g>
<g id="L26"><text class="a" transform="rotate(-45)" x="374" y="4">AchiOR41</text></g>
<g id="L27"><text class="t" transform="rotate(-43.2)" x="374" y="4">TcasOR63</text></g>
<g id="L28"><text class="t" transform="rotate(-41.4)" x="374" y="4">TcasOR67</text></g>
<g id="L29"><text class="m" transform="rotate(-39.6)" x="374" y="4">McarOR37PAR</text></g>
<g id="L30"><text class="a" transform="rotate(-37.8)" x="374" y="4">AchiOR4</text></g>
<g id="L31"><text class="a" transform="rotate(-36)" x="374" y="4">AchiOR11</text></g>
<g id="L32"><text class="a" transform="rotate(-34.2)" x="374" y="4">AchiOR5</text></g>
<g id="L33"><text class="a" transform="rotate(-32.4)" x="374" y="4">AchiOR47</text></g>
<g id="L34"><text class="t" transform="rotate(-30.6)" x="374" y="4">TcasOR36</text></g>
<g id="L35"><text class="t" transform="rotate(-28.8)" x="374" y="4">TcasOR70</text></g>
<g id="L36"><text class="t" transform="rotate(-27)" x="374" y="4">TcasOR32</text></g>
<g id="L37"><text class="t" transform="rotate(-25.2)" x="374" y="4">TcasOR40</text></g>
<g id="L38"><text class="g" transform="rotate(-23.4)" x="374" y="4">AglaOR17</text></g>
<g id="L39"><text class="a" transform="rotate(-21.6)" x="374" y="4">AchiOR49</text></g>
<g id="L40"><text class="a" transform="rotate(-19.8)" x="374" y="4">AchiOR39</text></g>
<g id="L41"><text class="g" transform="rotate(-18)" x="374" y="4">AglaOR31</text></g>
<g id="L42"><text class="a" transform="rotate(-16.2)" x="374" y="4">AchiOR53</text></g>
<g id="L43"><text class="m" transform="rotate(-14.4)" x="374" y="4">McarOR2</text></g>
<g id="L44"><text class="i" transform="rotate(-12.6)" x="374" y="4">ItypOR11</text></g>
<g id="L45"><text class="m" transform="rotate(-10.8)" x="374" y="4">McarOR33PAR</text></g>
<g id="L46"><text class="m" transform="rotate(-9)" x="374" y="4">McarOR34PAR</text></g>
<g id="L47"><text class="a" transform="rotate(-7.2)" x="374" y="4">AchiOR30</text></g>
<g id="L48"><text class="t" transform="rotate(-5.4)" x="374" y="4">TcasOR39</text></g>
<g id="L49"><text class="a" transform="rotate(-3.6)" x="374" y="4">AchiOR35</text></g>
<g id="L50"><text class="t" transform="rotate(-1.8)" x="374" y="4">TcasOR23</text></g>
<g id="L51"><text class="t" transform="rotate(0)" x="374" y="4">TcasOR14</text></g>
<g id="L52"><text class="t" transform="rotate(1.8)" x="374" y="4">TcasOR15</text></g>
<g id="L53"><text class="t" transform="rotate(3.6)" x="374" y="4">TcasOR54</text></g>
<g id="L54"><text class="t" transform="rotate(5.4)" x="374" y="4">TcasOR57</text></g>
<g id="L55"><text class="t" transform="rotate(7.2)" x="374" y="4">TcasOR55</text></g>
<g id="L56"><text class="a" transform="rotate(9)" x="374" y="4">AchiOR33</text></g>
<g id="L57"><text class="m" transform="rotate(10.8)" x="374" y="4">McarOR44</text></g>
<g id="L58"><text class="a" transform="rotate(12.6)" x="374" y="4">AchiOR12</text></g>
<g id="L59"><text class="t" transform="rotate(14.4)" x="374" y="4">TcasOR275FIX</text></g>
<g id="L60"><text class="t" transform="rotate(16.2)" x="374" y="4">TcasOR309</text></g>
<g id="L61"><text class="t" transform="rotate(18)" x="374" y="4">TcasOR322</text></g>
<g id="L62"><text class="t" transform="rotate(19.8)" x="374" y="4">TcasOR313</text></g>
<g id="L63"><text class="t" transform="rotate(21.6)" x="374" y="4">TcasOR314</text></g>
<g id="L64"><text class="t" transform="rotate(23.4)" x="374" y="4">TcasOR315</text></g>
<g id="L65"><text class="t" transform="rotate(25.2)" x="374" y="4">TcasOR316</text></g>
<g id="L66"><text class="t" transform="rotate(27)" x="374" y="4">TcasOR207PSE</text></g>
<g id="L67"><text class="t" transform="rotate(28.8)" x="374" y="4">TcasOR214</text></g>
<g id="L68"><text class="t" transform="rotate(30.6)" x="374" y="4">TcasOR209</text></g>
<g id="L69"><text class="t" transform="rotate(32.4)" x="374" y="4">TcasOR208</text></g>
<g id="L70"><text class="t" transform="rotate(34.2)" x="374" y="4">TcasOR222</text></g>
<g id="L71"><text class="t" transform="rotate(36)" x="374" y="4">TcasOR217</text></g>
<g id="L72"><text class="t" transform="rotate(37.8)" x="374" y="4">TcasOR276</text></g>
<g id="L73"><text class="t" transform="rotate(39.6)" x="374" y="4">TcasOR300</text></g>
<g id="L74"><text class="t" transform="rotate(41.4)" x="374" y="4">TcasOR281</text></g>
<g id="L75"><text class="t" transform="rotate(43.2)" x="374" y="4">TcasOR287</text></g>
<g id="L76"><text class="t" transform="rotate(45)" x="374" y="4">TcasOR292</text></g>
<g id="L77"><text class="t" transform="rotate(46.8)" x="374" y="4">TcasOR295</text></g>
<g id="L78"><text class="t" transform="rotate(48.6)" x="374" y="4">TcasOR299</text></g>
<g id="L79"><text class="a" transform="rotate(50.2)" x="374" y="4">AchiOR40</text></g>
<g id="L80"><text class="a" transform="rotate(51.94)" x="374" y="4">AchiOR28</text></g>
<g id="L81"><text class="a" transform="rotate(53.68)" x="374" y="4">AchiOR15</text></g>
<g id="L81b"><text class="a" transform="rotate(55.42)" x="374" y="4">AchiOR18</text></g>
<g id="L82"><text class="g" transform="rotate(57.16)" x="374" y="4">AglaOR27</text></g>
<g id="L83"><text class="a" transform="rotate(58.9)" x="374" y="4">AchiOR27</text></g>
<g id="L84"><text class="a" transform="rotate(60.64)" x="374" y="4">AchiOR6</text></g>
<g id="L85"><text class="a" transform="rotate(62.38)" x="374" y="4">AchiOR7</text></g>
<g id="L86"><text class="i" transform="rotate(64.12)" x="374" y="4">ItypOR38</text></g>
<g id="L87"><text class="m" transform="rotate(65.86)" x="374" y="4">McarOR57PAR</text></g>
<g id="L88"><text class="i" transform="rotate(67.6)" x="374" y="4">ItypOR15</text></g>
<g id="L89"><text class="i" transform="rotate(69.34)" x="374" y="4">ItypOR33</text></g>
<g id="L90"><text class="a" transform="rotate(71.08)" x="374" y="4">AchiOR25</text></g>
<g id="L91"><text class="a" transform="rotate(72.82)" x="374" y="4">AchiOR29</text></g>
<g id="L92"><text class="a" transform="rotate(74.56)" x="374" y="4">AchiOR2</text></g>
<g id="L93"><text class="d" transform="rotate(76.3)" x="374" y="4">DponOR1</text></g>
<g id="L94"><text class="g" transform="rotate(78.04)" x="374" y="4">AglaOR28</text></g>
<g id="L95"><text class="a" transform="rotate(79.78)" x="374" y="4">AchiOR42</text></g>
<g id="L96"><text class="g" transform="rotate(81.52)" x="374" y="4">AglaOR2</text></g>
<g id="L97"><text class="a" transform="rotate(83.26)" x="374" y="4">AchiOR45</text></g>
<g id="L98"><text class="g" transform="rotate(85)" x="374" y="4">AglaOR7</text></g>
<g id="L99"><text class="a" transform="rotate(86.74)" x="374" y="4">AchiOR31</text></g>
<g id="L100"><text class="a" transform="rotate(88.48)" x="374" y="4">AchiOR46</text></g>
<g id="L101"><text class="g" transform="rotate(90)" x="374" y="4">AglaOR8</text></g>
<g id="L102"><text class="a e" transform="rotate(-88.2)" x="-374" y="4">AchiOR9</text></g>
<g id="L103"><text class="a e" transform="rotate(-86.4)" x="-374" y="4">AchiOR21</text></g>
<g id="L104"><text class="a e" transform="rotate(-84.6)" x="-374" y="4">AchiOR14</text></g>
<g id="L105"><text class="g e" transform="rotate(-82.8)" x="-374" y="4">AglaOR24</text></g>
<g id="L106"><text class="m e" transform="rotate(-81)" x="-374" y="4">McarOR35PAR</text></g>
<g id="L107"><text class="g e" transform="rotate(-79.2)" x="-374" y="4">AglaOR22</text></g>
<g id="L108"><text class="a e" transform="rotate(-77.4)" x="-374" y="4">AchiOR50</text></g>
<g id="L109"><text class="m e" transform="rotate(-75.6)" x="-374" y="4">McarOR12</text></g>
<g id="L110"><text class="a e" transform="rotate(-73.8)" x="-374" y="4">AchiOR10</text></g>
<g id="L111"><text class="i e" transform="rotate(-72)" x="-374" y="4">ItypOR32</text></g>
<g id="L112"><text class="d e" transform="rotate(-70.2)" x="-374" y="4">DponOR25</text></g>
<g id="L113"><text class="d e" transform="rotate(-68.4)" x="-374" y="4">DponOR23</text></g>
<g id="L114"><text class="i e" transform="rotate(-66.6)" x="-374" y="4">ItypOR28</text></g>
<g id="L115"><text class="i e" transform="rotate(-64.8)" x="-374" y="4">ItypOR29</text></g>
<g id="L116"><text class="d e" transform="rotate(-63)" x="-374" y="4">DponOR45</text></g>
<g id="L117"><text class="d e" transform="rotate(-61.2)" x="-374" y="4">DponOR43</text></g>
<g id="L118"><text class="i e" transform="rotate(-59.4)" x="-374" y="4">ItypOR36</text></g>
<g id="L119"><text class="i e" transform="rotate(-57.6)" x="-374" y="4">ItypOR39</text></g>
<g id="L120"><text class="i e" transform="rotate(-55.8)" x="-374" y="4">ItypOR43</text></g>
<g id="L121"><text class="i e" transform="rotate(-54)" x="-374" y="4">ItypOR42</text></g>
<g id="L122"><text class="d e" transform="rotate(-52.2)" x="-374" y="4">DponOR36</text></g>
<g id="L123"><text class="a e" transform="rotate(-50.4)" x="-374" y="4">AchiOR1 ORco</text></g>
<g id="L124"><text class="k e" transform="rotate(-48.6)" x="-374" y="4">MaltOR1</text></g>
<g id="L125"><text class="m e" transform="rotate(-46.8)" x="-374" y="4">McarOR1</text></g>
<g id="L126"><text class="k e" transform="rotate(-45)" x="-374" y="4">PstrOR1 Orco</text></g>
<g id="L127"><text class="k e" transform="rotate(-43.2)" x="-374" y="4">TmolORco</text></g>
<g id="L128"><text class="k e" transform="rotate(-41.4)" x="-374" y="4">AcorORco</text></g>
<g id="L129"><text class="g e" transform="rotate(-39.6)" x="-374" y="4">AglaOR15</text></g>
<g id="L130"><text class="a e" transform="rotate(-37.8)" x="-374" y="4">AchiOR24</text></g>
<g id="L131"><text class="a e" transform="rotate(-36)" x="-374" y="4">AchiOR20</text></g>
<g id="L132"><text class="m e" transform="rotate(-34.2)" x="-374" y="4">McarOR19</text></g>
<g id="L133"><text class="g e" transform="rotate(-32.4)" x="-374" y="4">AglaOR26</text></g>
<g id="L134"><text class="m e" transform="rotate(-30.6)" x="-374" y="4">McarOR18</text></g>
<g id="L135"><text class="m e" transform="rotate(-28.8)" x="-374" y="4">McarOR21</text></g>
<g id="L136"><text class="d e" transform="rotate(-27)" x="-374" y="4">DponOR19</text></g>
<g id="L137"><text class="i e" transform="rotate(-25.2)" x="-374" y="4">ItypOR19</text></g>
<g id="L138"><text class="i e" transform="rotate(-23.4)" x="-374" y="4">ItypOR18</text></g>
<g id="L139"><text class="g e" transform="rotate(-21.6)" x="-374" y="4">AglaOR21</text></g>
<g id="L140"><text class="a e" transform="rotate(-19.8)" x="-374" y="4">AchiOR22</text></g>
<g id="L141"><text class="m e" transform="rotate(-18)" x="-374" y="4">McarOR17</text></g>
<g id="L142" transform="rotate(-16.2)"><rect class="box" x="-431" y="-9" width="59" height="15"/><text class="m e" x="-374" y="4">McarOR20</text><text class="pr e" x="-436" y="6">PR•</text></g>
<g id="L143"><text class="i e" transform="rotate(-14.4)" x="-374" y="4">ItypOR1</text></g>
<g id="L144"><text class="a e" transform="rotate(-12.6)" x="-374" y="4">AchiOR32</text></g>
<g id="L145"><text class="t e" transform="rotate(-10.8)" x="-374" y="4">TcasOR92</text></g>
<g id="L146"><text class="t e" transform="rotate(-9)" x="-374" y="4">TcasOR93</text></g>
<g id="L147"><text class="t e" transform="rotate(-7.2)" x="-374" y="4">TcasOR95FIX</text></g>
<g id="L148"><text class="t e" transform="rotate(-5.4)" x="-374" y="4">TcasOR98FIX</text></g>
<g id="L149"><text class="d e" transform="rotate(-3.6)" x="-374" y="4">DponOR3</text></g>
<g id="L150"><text class="i e" transform="rotate(-1.8)" x="-374" y="4">ItypOR3</text></g>
<g id="L151"><text class="i e" transform="rotate(0)" x="-374" y="4">ItypOR4</text></g>
<g id="L152"><text class="m e" transform="rotate(1.8)" x="-374" y="4">McarOR6</text></g>
<g id="L153"><text class="a e" transform="rotate(3.6)" x="-374" y="4">AchiOR13</text></g>
<g id="L154"><text class="m e" transform="rotate(5.4)" x="-374" y="4">McarOR36PAR</text></g>
<g id="L155"><text class="t e" transform="rotate(7.2)" x="-374" y="4">TcasOR102</text></g>
<g id="L156"><text class="i e" transform="rotate(9)" x="-374" y="4">ItypOR2</text></g>
<g id="L157"><text class="t e" transform="rotate(10.8)" x="-374" y="4">TcasOR73FIX</text></g>
<g id="L158"><text class="d e" transform="rotate(12.6)" x="-374" y="4">DponOR15Fix</text></g>
<g id="L159"><text class="g e" transform="rotate(14.4)" x="-374" y="4">AglaOR1</text></g>
<g id="L160"><text class="g e" transform="rotate(16.2)" x="-374" y="4">AglaOR10</text></g>
<g id="L161"><text class="g e" transform="rotate(18)" x="-374" y="4">AglaOR13</text></g>
<g id="L162"><text class="g e" transform="rotate(19.8)" x="-374" y="4">AglaOR30</text></g>
<g id="L163"><text class="g e" transform="rotate(21.6)" x="-374" y="4">AglaOR36</text></g>
<g id="L164"><text class="g e" transform="rotate(23.4)" x="-374" y="4">AglaOR35</text></g>
<g id="L165"><text class="g e" transform="rotate(25.2)" x="-374" y="4">AglaOR3</text></g>
<g id="L166"><text class="g e" transform="rotate(27)" x="-374" y="4">AglaOR9</text></g>
<g id="L167"><text class="m e" transform="rotate(28.8)" x="-374" y="4">McarOR55PAR</text></g>
<g id="L168"><text class="g e" transform="rotate(30.6)" x="-374" y="4">AglaOR4</text></g>
<g id="L169"><text class="a e" transform="rotate(32.4)" x="-374" y="4">AchiOR37</text></g>
<g id="L170"><text class="g e" transform="rotate(34.2)" x="-374" y="4">AglaOR12</text></g>
<g id="L171"><text class="a e" transform="rotate(36)" x="-374" y="4">AchiOR38</text></g>
<g id="L172"><text class="a e" transform="rotate(37.8)" x="-374" y="4">AchiOR17</text></g>
<g id="L173"><text class="a e" transform="rotate(39.6)" x="-374" y="4">AchiOR16</text></g>
<g id="L174"><text class="m e" transform="rotate(41.4)" x="-374" y="4">McarOR24PAR</text></g>
<g id="L175"><text class="m e" transform="rotate(43.2)" x="-374" y="4">McarOR26</text></g>
<g id="L176"><text class="m e" transform="rotate(45)" x="-374" y="4">McarOR45PAR</text></g>
<g id="L177"><text class="t e" transform="rotate(46.8)" x="-374" y="4">TcasOR120</text></g>
<g id="L178"><text class="t e" transform="rotate(48.6)" x="-374" y="4">TcasOR123</text></g>
<g id="L179"><text class="t e" transform="rotate(50.4)" x="-374" y="4">TcasOR121</text></g>
<g id="L180"><text class="t e" transform="rotate(52.2)" x="-374" y="4">TcasOR117</text></g>
<g id="L181"><text class="t e" transform="rotate(54)" x="-374" y="4">TcasOR127</text></g>
<g id="L182"><text class="t e" transform="rotate(55.8)" x="-374" y="4">TcasOR126FIX</text></g>
<g id="L183"><text class="m e" transform="rotate(57.6)" x="-374" y="4">McarOR46PAR</text></g>
<g id="L184"><text class="m e" transform="rotate(59.4)" x="-374" y="4">McarOR47PAR</text></g>
<g id="L185"><text class="g e" transform="rotate(61.2)" x="-374" y="4">AglaOR23</text></g>
<g id="L186"><text class="a e" transform="rotate(63)" x="-374" y="4">AchiOR19</text></g>
<g id="L187"><text class="m e" transform="rotate(64.8)" x="-374" y="4">McarOR23</text></g>
<g id="L188"><text class="a e" transform="rotate(66.6)" x="-374" y="4">AchiOR3</text></g>
<g id="L189"><text class="a e" transform="rotate(68.4)" x="-374" y="4">AchiOR36</text></g>
<g id="L190"><text class="a e" transform="rotate(70.2)" x="-374" y="4">AchiOR51</text></g>
<g id="L191"><text class="a e" transform="rotate(72)" x="-374" y="4">AchiOR52</text></g>
</g>
</svg>
